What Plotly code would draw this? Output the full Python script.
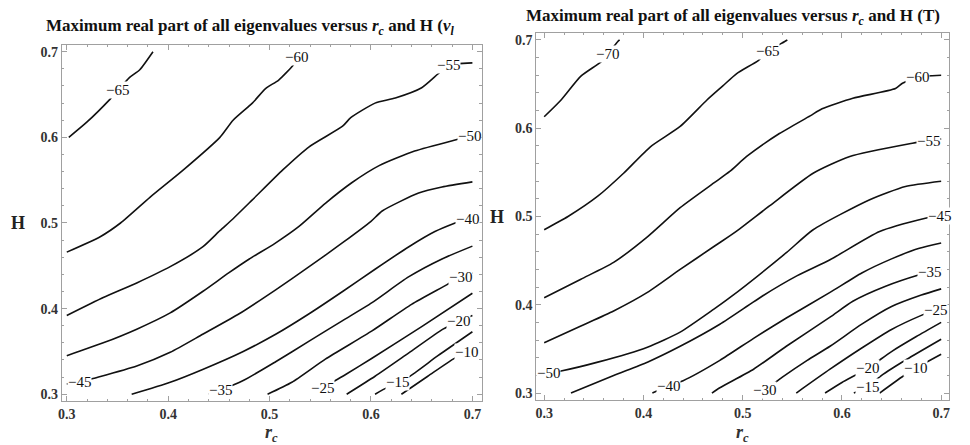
import plotly.graph_objects as go

# ---------------- data ----------------
# Left panel (v_l): contour lines, (r_c values, H values)
L_m65 = ([0.302, 0.320, 0.343, 0.352, 0.362, 0.372, 0.385],
         [0.600, 0.618, 0.645, 0.657, 0.670, 0.679, 0.700])
L_m60 = ([0.300, 0.333, 0.353, 0.382, 0.415, 0.451, 0.464, 0.483, 0.496, 0.509, 0.523, 0.530],
         [0.466, 0.484, 0.500, 0.530, 0.562, 0.600, 0.620, 0.640, 0.657, 0.667, 0.684, 0.697])
L_m55 = ([0.300, 0.336, 0.369, 0.402, 0.434, 0.451, 0.464, 0.483, 0.513, 0.539, 0.572, 0.580, 0.604, 0.624, 0.650, 0.666, 0.676, 0.700],
         [0.392, 0.413, 0.430, 0.449, 0.472, 0.491, 0.505, 0.527, 0.562, 0.589, 0.613, 0.623, 0.640, 0.646, 0.658, 0.674, 0.684, 0.687])
L_m50 = ([0.300, 0.336, 0.369, 0.402, 0.434, 0.460, 0.480, 0.505, 0.529, 0.555, 0.581, 0.608, 0.643, 0.683, 0.700],
         [0.345, 0.360, 0.376, 0.395, 0.420, 0.442, 0.458, 0.476, 0.496, 0.523, 0.547, 0.567, 0.584, 0.597, 0.602])
L_m45 = ([0.300, 0.313, 0.325, 0.369, 0.402, 0.434, 0.470, 0.506, 0.539, 0.572, 0.600, 0.611, 0.647, 0.670, 0.700],
         [0.312, 0.314, 0.318, 0.333, 0.349, 0.370, 0.394, 0.422, 0.449, 0.477, 0.502, 0.514, 0.535, 0.542, 0.548])
L_m40 = ([0.364, 0.402, 0.434, 0.474, 0.506, 0.539, 0.572, 0.604, 0.637, 0.663, 0.683, 0.695, 0.700],
         [0.300, 0.314, 0.329, 0.350, 0.370, 0.394, 0.420, 0.446, 0.472, 0.490, 0.500, 0.505, 0.507])
L_m35 = ([0.440, 0.452, 0.474, 0.506, 0.539, 0.572, 0.601, 0.637, 0.670, 0.700],
         [0.300, 0.305, 0.316, 0.338, 0.362, 0.386, 0.407, 0.437, 0.458, 0.473])
L_m30 = ([0.498, 0.522, 0.555, 0.601, 0.640, 0.675, 0.688, 0.700],
         [0.300, 0.314, 0.341, 0.374, 0.405, 0.428, 0.437, 0.442])
L_m25 = ([0.545, 0.552, 0.575, 0.601, 0.650, 0.700],
         [0.300, 0.307, 0.323, 0.342, 0.379, 0.418])
L_m20 = ([0.576, 0.604, 0.637, 0.671, 0.686, 0.700],
         [0.300, 0.321, 0.348, 0.376, 0.385, 0.392])
L_m15 = ([0.604, 0.616, 0.626, 0.637, 0.666, 0.700],
         [0.300, 0.308, 0.314, 0.320, 0.345, 0.373])
L_m10 = ([0.630, 0.656, 0.681, 0.694, 0.700],
         [0.300, 0.321, 0.341, 0.349, 0.353])
left_lines = [L_m65, L_m60, L_m55, L_m50, L_m45, L_m40, L_m35, L_m30, L_m25, L_m20, L_m15, L_m10]

left_label_text = ["−65", "−60", "−55", "−50", "−45", "−40", "−35", "−30", "−25", "−20", "−15", "−10"]
left_label_r = [0.350, 0.527, 0.676, 0.697, 0.313, 0.695, 0.452, 0.688, 0.552, 0.686, 0.626, 0.694]
left_label_h = [0.655, 0.694, 0.684, 0.602, 0.314, 0.505, 0.305, 0.437, 0.307, 0.385, 0.314, 0.349]

# Right panel (T)
R_m70 = ([0.300, 0.317, 0.337, 0.357, 0.364, 0.374, 0.376],
         [0.613, 0.632, 0.659, 0.675, 0.684, 0.698, 0.700])
R_m65 = ([0.300, 0.324, 0.354, 0.380, 0.407, 0.437, 0.464, 0.480, 0.494, 0.516, 0.525, 0.542, 0.545],
         [0.485, 0.500, 0.523, 0.549, 0.579, 0.602, 0.632, 0.648, 0.662, 0.677, 0.687, 0.698, 0.700])
R_m60 = ([0.300, 0.337, 0.370, 0.404, 0.437, 0.471, 0.487, 0.504, 0.537, 0.568, 0.580, 0.611, 0.654, 0.661, 0.676, 0.700],
         [0.408, 0.429, 0.448, 0.477, 0.510, 0.538, 0.551, 0.568, 0.594, 0.614, 0.622, 0.634, 0.645, 0.651, 0.658, 0.660])
R_m55 = ([0.300, 0.337, 0.370, 0.404, 0.437, 0.471, 0.487, 0.497, 0.527, 0.571, 0.608, 0.671, 0.687, 0.700],
         [0.357, 0.376, 0.393, 0.414, 0.440, 0.466, 0.478, 0.486, 0.512, 0.549, 0.568, 0.583, 0.586, 0.588])
R_m50 = ([0.300, 0.317, 0.354, 0.404, 0.437, 0.471, 0.487, 0.544, 0.571, 0.628, 0.664, 0.700],
         [0.322, 0.325, 0.335, 0.352, 0.369, 0.395, 0.408, 0.459, 0.485, 0.519, 0.534, 0.540])
R_m45 = ([0.327, 0.370, 0.404, 0.437, 0.477, 0.520, 0.555, 0.588, 0.638, 0.684, 0.697, 0.700],
         [0.300, 0.320, 0.335, 0.353, 0.378, 0.410, 0.433, 0.451, 0.483, 0.498, 0.501, 0.502])
R_m40 = ([0.409, 0.425, 0.440, 0.477, 0.511, 0.544, 0.588, 0.620, 0.650, 0.678, 0.700],
         [0.300, 0.308, 0.314, 0.337, 0.362, 0.385, 0.414, 0.436, 0.452, 0.464, 0.470])
R_m35 = ([0.469, 0.477, 0.511, 0.544, 0.588, 0.611, 0.644, 0.678, 0.688, 0.700],
         [0.300, 0.306, 0.327, 0.353, 0.386, 0.404, 0.421, 0.434, 0.437, 0.440])
R_m30 = ([0.515, 0.522, 0.540, 0.565, 0.588, 0.620, 0.650, 0.680, 0.700],
         [0.300, 0.303, 0.318, 0.337, 0.353, 0.378, 0.398, 0.411, 0.418])
R_m25 = ([0.554, 0.588, 0.620, 0.650, 0.680, 0.694, 0.700],
         [0.300, 0.327, 0.351, 0.372, 0.388, 0.394, 0.396])
R_m20 = ([0.583, 0.600, 0.626, 0.650, 0.675, 0.700],
         [0.300, 0.312, 0.328, 0.347, 0.364, 0.380])
R_m15 = ([0.612, 0.626, 0.640, 0.665, 0.700],
         [0.300, 0.307, 0.320, 0.338, 0.361])
R_m10 = ([0.638, 0.664, 0.674, 0.700],
         [0.300, 0.321, 0.328, 0.344])
right_lines = [R_m70, R_m65, R_m60, R_m55, R_m50, R_m45, R_m40, R_m35, R_m30, R_m25, R_m20, R_m15, R_m10]

right_label_text = ["−70", "−65", "−60", "−55", "−50", "−45", "−40", "−35", "−30", "−25", "−20", "−15", "−10"]
right_label_r = [0.364, 0.525, 0.676, 0.687, 0.304, 0.698, 0.425, 0.688, 0.522, 0.694, 0.626, 0.626, 0.674]
right_label_h = [0.684, 0.687, 0.658, 0.586, 0.323, 0.501, 0.308, 0.437, 0.303, 0.394, 0.328, 0.307, 0.328]

tick_vals = [0.3, 0.4, 0.5, 0.6, 0.7]
tick_text = ["0.3", "0.4", "0.5", "0.6", "0.7"]

title_left = "Maximum real part of all eigenvalues versus <i>r<sub>c</sub></i> and H (<i>v<sub>l</sub></i>"
title_right = "Maximum real part of all eigenvalues versus <i>r<sub>c</sub></i> and H (T)"

# ---------------- figure ----------------
W, H = 970, 445
SERIF = "Liberation Serif"
LINE = dict(color="#111111", width=1.6, shape="spline", smoothing=0.6)
FRAME = "#a0a0a0"

fig = go.Figure()
for xs, ys in left_lines:
    fig.add_trace(go.Scatter(x=xs, y=ys, mode="lines", line=LINE,
                             xaxis="x", yaxis="y", showlegend=False, hoverinfo="skip"))
for xs, ys in right_lines:
    fig.add_trace(go.Scatter(x=xs, y=ys, mode="lines", line=LINE,
                             xaxis="x2", yaxis="y2", showlegend=False, hoverinfo="skip"))

annotations = []
for t, rx, hy in zip(left_label_text, left_label_r, left_label_h):
    annotations.append(dict(x=rx, y=hy, xref="x", yref="y", text=t, showarrow=False,
                            font=dict(family=SERIF, size=15, color="#111"),
                            bgcolor="white", borderpad=0))
for t, rx, hy in zip(right_label_text, right_label_r, right_label_h):
    annotations.append(dict(x=rx, y=hy, xref="x2", yref="y2", text=t, showarrow=False,
                            font=dict(family=SERIF, size=15, color="#111"),
                            bgcolor="white", borderpad=0))

def py(p):
    return 1 - p / H

def px(p):
    return p / W

annotations += [
    dict(x=px(40), y=py(27), xref="paper", yref="paper", xanchor="left", yanchor="middle",
         text=title_left, showarrow=False, font=dict(family=SERIF, size=17, color="#111", weight="bold")),
    dict(x=px(523), y=py(17), xref="paper", yref="paper", xanchor="left", yanchor="middle",
         text=title_right, showarrow=False, font=dict(family=SERIF, size=17, color="#111", weight="bold")),
    dict(x=px(14), y=py(224), xref="paper", yref="paper", xanchor="center", yanchor="middle",
         text="H", showarrow=False, font=dict(family=SERIF, size=18, color="#222", weight="bold")),
    dict(x=px(496), y=py(217), xref="paper", yref="paper", xanchor="center", yanchor="middle",
         text="H", showarrow=False, font=dict(family=SERIF, size=18, color="#222", weight="bold")),
    dict(x=px(269), y=py(434), xref="paper", yref="paper", xanchor="center", yanchor="middle",
         text="<i>r<sub>c</sub></i>", showarrow=False, font=dict(family=SERIF, size=18, color="#333", weight="bold")),
    dict(x=px(742), y=py(434), xref="paper", yref="paper", xanchor="center", yanchor="middle",
         text="<i>r<sub>c</sub></i>", showarrow=False, font=dict(family=SERIF, size=18, color="#333", weight="bold")),
]

def axis(domain, rng, anchor):
    return dict(domain=domain, range=rng, anchor=anchor,
                tickvals=tick_vals, ticktext=tick_text,
                tickfont=dict(family=SERIF, size=14, color="#333", weight="bold"),
                showline=True, linecolor=FRAME, linewidth=1, mirror="allticks",
                ticks="inside", ticklen=5, tickcolor=FRAME, tickwidth=1,
                minor=dict(ticks="inside", ticklen=2.5, tickcolor=FRAME, dtick=0.02, showgrid=False),
                showgrid=False, zeroline=False, fixedrange=True)

fig.update_layout(
    width=W, height=H, autosize=False,
    margin=dict(l=0, r=0, t=0, b=0),
    paper_bgcolor="white", plot_bgcolor="white",
    xaxis=axis([px(58), px(480)], [0.295, 0.709], "y"),
    yaxis=axis([py(402), py(45)], [0.292, 0.708], "x"),
    xaxis2=axis([px(535), px(950)], [0.292, 0.708], "y2"),
    yaxis2=axis([py(401), py(33)], [0.292, 0.708], "x2"),
    annotations=annotations,
)

fig.write_html("out.html")
